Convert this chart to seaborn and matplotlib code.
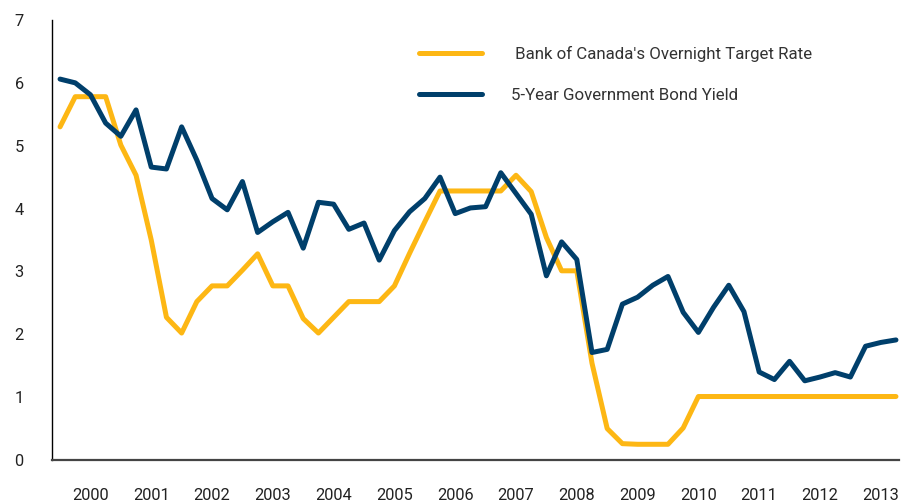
import matplotlib
matplotlib.use("Agg")
import matplotlib.pyplot as plt
import seaborn as sns
import pandas as pd
import numpy as np

# Quarterly observations (index 0 = first quarter shown)
overnight_rate = [5.30, 5.78, 5.78, 5.78, 5.01, 4.53, 3.50, 2.27, 2.02, 2.52,
                  2.77, 2.77, 3.02, 3.28, 2.77, 2.77, 2.25, 2.02, 2.27, 2.52,
                  2.52, 2.52, 2.77, 3.29, 3.79, 4.28, 4.28, 4.28, 4.28, 4.28,
                  4.53, 4.27, 3.54, 3.01, 3.01, 1.54, 0.50, 0.26, 0.25, 0.25,
                  0.25, 0.51, 1.01, 1.01, 1.01, 1.01, 1.01, 1.01, 1.01, 1.01,
                  1.01, 1.01, 1.01, 1.01, 1.01, 1.01]
bond_yield = [6.06, 6.00, 5.81, 5.36, 5.15, 5.57, 4.66, 4.63, 5.30, 4.77,
              4.16, 3.98, 4.43, 3.62, 3.79, 3.94, 3.37, 4.10, 4.07, 3.67,
              3.77, 3.18, 3.65, 3.95, 4.16, 4.50, 3.92, 4.01, 4.03, 4.57,
              4.24, 3.91, 2.93, 3.47, 3.19, 1.71, 1.76, 2.48, 2.59, 2.78,
              2.92, 2.35, 2.03, 2.43, 2.78, 2.36, 1.40, 1.28, 1.57, 1.26,
              1.32, 1.39, 1.32, 1.81, 1.87, 1.91]
year_labels = ["2000", "2001", "2002", "2003", "2004", "2005", "2006",
               "2007", "2008", "2009", "2010", "2011", "2012", "2013"]
series_names = [" Bank of Canada's Overnight Target Rate",
                "5-Year Government Bond Yield"]

sns.set_theme(style="white")
plt.rcParams['font.family'] = ['Roboto', 'DejaVu Sans']

n = len(bond_yield)
df = pd.DataFrame({
    "quarter": list(range(n)) * 2,
    "value": overnight_rate + bond_yield,
    "series": [series_names[0]] * n + [series_names[1]] * n,
})

fig = plt.figure(figsize=(9.14, 5.01), dpi=100)
ax = fig.add_axes([52 / 914, 41 / 501, 847 / 914, 440 / 501])

palette = {series_names[0]: "#FDB714", series_names[1]: "#003F6B"}
sns.lineplot(data=df, x="quarter", y="value", hue="series", palette=palette,
             linewidth=3.6, ax=ax, legend=True)

ax.set_xlim(-0.53, 55.2)
ax.set_ylim(0, 7)
ax.set_xticks([2 + 4 * k for k in range(len(year_labels))])
ax.set_xticklabels(year_labels)
ax.set_yticks(range(0, 8))
ax.set_xlabel("")
ax.set_ylabel("")
ax.tick_params(axis="x", length=0, pad=20, labelsize=11.8, labelcolor="#222222")
ax.tick_params(axis="y", length=0, labelsize=11.8, labelcolor="#222222")
for lab in ax.get_yticklabels():
    lab.set_horizontalalignment("left")
ax.tick_params(axis="y", pad=27)

for s in ["top", "right"]:
    ax.spines[s].set_visible(False)
ax.spines["left"].set_color("#000000")
ax.spines["left"].set_linewidth(1.0)
ax.spines["bottom"].set_color("#444444")
ax.spines["bottom"].set_linewidth(1.6)

handles, labels = ax.get_legend_handles_labels()
leg = ax.legend(handles, labels, loc="upper left",
                bbox_to_anchor=(419 / 914, (501 - 46) / 501),
                bbox_transform=fig.transFigure,
                frameon=False, fontsize=12.2, handlelength=3.7,
                handletextpad=1.75, labelspacing=1.55, borderpad=0,
                borderaxespad=0)
for t in leg.get_texts():
    t.set_color("#333333")
for h in leg.get_lines():
    h.set_linewidth(3.6)

fig.savefig("out.png", dpi=100)
